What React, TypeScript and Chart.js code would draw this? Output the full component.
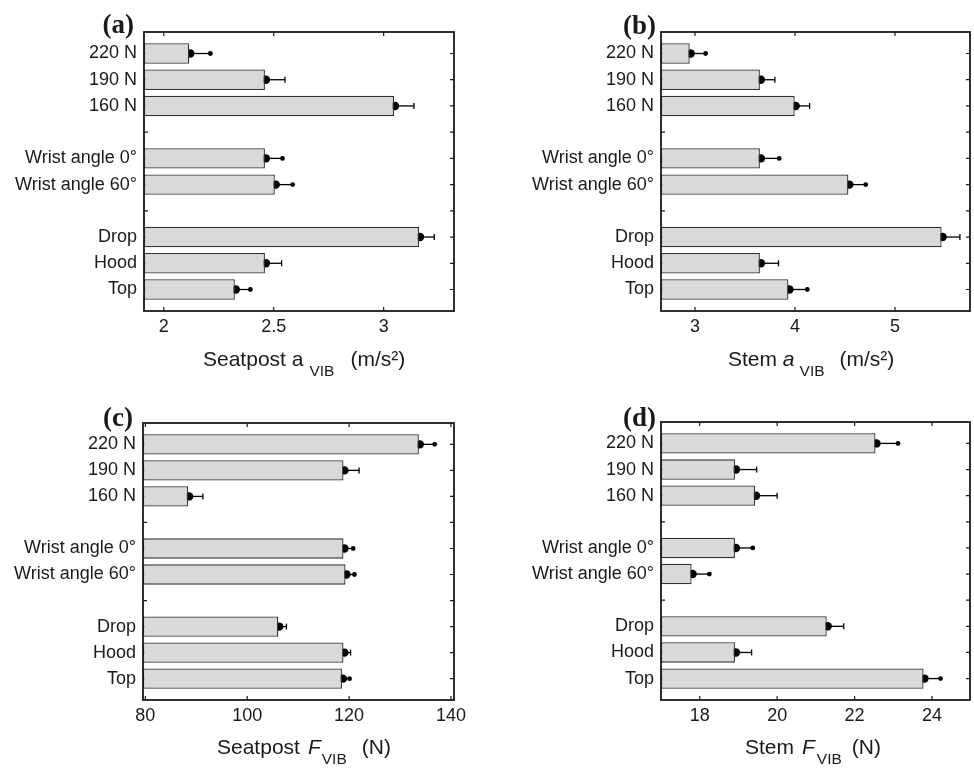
import React, { useEffect, useRef } from "react";
import { Chart, registerables } from "chart.js";

Chart.register(...registerables);

// ---------- data ----------
const categoryLabels = ["220 N", "190 N", "160 N", "", "Wrist angle 0°", "Wrist angle 60°", "", "Drop", "Hood", "Top"];
const errorEndStyle = ["dot", "cap", "cap", "", "dot", "dot", "", "cap", "cap", "dot"];

const seatpostAccel = [2.116, 2.46, 3.047, null, 2.46, 2.505, null, 3.161, 2.46, 2.323];
const seatpostAccelErr = [0.096, 0.091, 0.091, null, 0.08, 0.081, null, 0.069, 0.076, 0.071];
const seatpostAccelTicks = [2, 2.5, 3];

const stemAccel = [2.947, 3.649, 3.997, null, 3.649, 4.534, null, 5.466, 3.649, 3.934];
const stemAccelErr = [0.159, 0.15, 0.149, null, 0.193, 0.173, null, 0.183, 0.186, 0.189];
const stemAccelTicks = [3, 4, 5];

const seatpostForce = [133.7, 118.9, 88.4, null, 118.9, 119.3, null, 106.1, 118.9, 118.6];
const seatpostForceErr = [3.1, 3.07, 2.9, null, 1.9, 1.75, null, 1.6, 1.4, 1.5];
const seatpostForceTicks = [80, 100, 120, 140];

const stemForce = [22.54, 18.91, 19.43, null, 18.91, 17.79, null, 21.28, 18.91, 23.78];
const stemForceErr = [0.58, 0.56, 0.57, null, 0.46, 0.46, null, 0.44, 0.43, 0.44];
const stemForceTicks = [18, 20, 22, 24];

const SANS = "'Liberation Sans', Arial, Helvetica, sans-serif";
const SERIF = "'Liberation Serif', 'Times New Roman', serif";
const INK = "#1a1a1a";

type PanelProps = {
  left: number;
  top: number;
  values: (number | null)[];
  errors: (number | null)[];
  xTicks: number[];
  xMin: number;
  xMax: number;
  yAxisWidth: number;
  padTop: number;
  padRight: number;
  padBottom: number;
  letter: string;
  letterRight: number;
  letterTop: number;
  title: React.ReactNode;
  titleLeft: number;
  titleTop: number;
};

function Panel(p: PanelProps) {
  const ref = useRef<HTMLCanvasElement | null>(null);

  useEffect(() => {
    if (!ref.current) return;
    const data = categoryLabels
      .map((_, i) => (p.values[i] == null ? null : { x: p.values[i] as number, y: i }))
      .filter((d) => d !== null);

    const ticksPlugin = {
      id: "inwardTicks",
      beforeDatasetsDraw(chart: any) {
        const { ctx, chartArea: a, scales } = chart;
        ctx.save();
        ctx.strokeStyle = INK;
        ctx.lineWidth = 1.2;
        const L = 4;
        scales.x.ticks.forEach((t: any) => {
          const px = scales.x.getPixelForValue(t.value);
          ctx.beginPath();
          ctx.moveTo(px, a.bottom);
          ctx.lineTo(px, a.bottom - L);
          ctx.moveTo(px, a.top);
          ctx.lineTo(px, a.top + L);
          ctx.stroke();
        });
        scales.y.ticks.forEach((t: any) => {
          const py = scales.y.getPixelForValue(t.value);
          ctx.beginPath();
          ctx.moveTo(a.left, py);
          ctx.lineTo(a.left + L, py);
          ctx.moveTo(a.right, py);
          ctx.lineTo(a.right - L, py);
          ctx.stroke();
        });
        // error bars (drawn beneath bars so the bar covers half of the mean dot)
        ctx.fillStyle = "#000";
        ctx.strokeStyle = "#000";
        categoryLabels.forEach((_, i) => {
          const v = p.values[i];
          const e = p.errors[i];
          if (v == null || e == null) return;
          const xs = scales.x.getPixelForValue(v);
          const xe = scales.x.getPixelForValue(v + e);
          const y = scales.y.getPixelForValue(i);
          ctx.lineWidth = 1.3;
          ctx.beginPath();
          ctx.moveTo(xs, y);
          ctx.lineTo(xe, y);
          ctx.stroke();
          ctx.beginPath();
          ctx.arc(xs + 1, y, 4.2, 0, Math.PI * 2);
          ctx.fill();
          if (errorEndStyle[i] === "dot") {
            ctx.beginPath();
            ctx.arc(xe, y, 2.4, 0, Math.PI * 2);
            ctx.fill();
          } else {
            ctx.beginPath();
            ctx.moveTo(xe, y - 3);
            ctx.lineTo(xe, y + 3);
            ctx.stroke();
          }
        });
        ctx.restore();
      },
      afterDatasetsDraw(chart: any) {
        const { ctx, chartArea: a } = chart;
        ctx.save();
        ctx.strokeStyle = INK;
        ctx.lineWidth = 1.8;
        ctx.strokeRect(a.left, a.top, a.right - a.left, a.bottom - a.top);
        ctx.restore();
      },
    };

    const chart = new Chart(ref.current, {
      type: "bar",
      data: {
        datasets: [
          {
            data: data as any,
            backgroundColor: "#d9d9d9",
            borderColor: "#333333",
            borderWidth: 1.3,
            borderSkipped: false,
            base: p.xMin,
            barPercentage: 0.78,
            categoryPercentage: 1,
          } as any,
        ],
      },
      options: {
        indexAxis: "y",
        animation: false,
        responsive: false,
        devicePixelRatio: window.devicePixelRatio || 1,
        layout: { padding: { left: 0, top: p.padTop, right: p.padRight, bottom: p.padBottom } },
        plugins: { legend: { display: false }, tooltip: { enabled: false } },
        scales: {
          x: {
            type: "linear",
            position: "bottom",
            min: p.xMin,
            max: p.xMax,
            offset: false,
            grid: { display: false, drawTicks: false },
            border: { display: false },
            afterBuildTicks: (s: any) => {
              s.ticks = p.xTicks.map((v) => ({ value: v }));
            },
            afterFit: (s: any) => {
              s.height = 40;
            },
            ticks: {
              font: { family: SANS, size: 18 },
              color: INK,
              padding: 5,
              autoSkip: false,
              maxRotation: 0,
              callback: (v: any) => String(v),
            },
          },
          y: {
            type: "linear",
            position: "left",
            reverse: true,
            offset: false,
            min: -0.82,
            max: categoryLabels.length - 1 + 0.82,
            grid: { display: false, drawTicks: false, offset: false },
            border: { display: false },
            afterBuildTicks: (s: any) => {
              s.ticks = categoryLabels.map((_, i) => ({ value: i }));
            },
            afterFit: (s: any) => {
              s.width = p.yAxisWidth;
            },
            ticks: {
              font: { family: SANS, size: 18 },
              color: INK,
              padding: 7,
              autoSkip: false,
              callback: (v: any) => categoryLabels[v] ?? "",
            },
          },
        },
      } as any,
      plugins: [ticksPlugin],
    });
    return () => chart.destroy();
  }, []);

  return (
    <div style={{ position: "absolute", left: p.left, top: p.top, width: 487, height: 384 }}>
      <canvas ref={ref} width={487} height={384} style={{ position: "absolute", left: 0, top: 0, width: 487, height: 384 }} />
      <div
        style={{
          position: "absolute",
          left: p.letterRight - 80,
          width: 80,
          top: p.letterTop,
          textAlign: "right",
          fontFamily: SERIF,
          fontWeight: "bold",
          fontSize: 27,
          lineHeight: "30px",
          color: INK,
        }}
      >
        {p.letter}
      </div>
      <div
        style={{
          position: "absolute",
          left: p.titleLeft,
          top: p.titleTop,
          whiteSpace: "nowrap",
          fontFamily: SANS,
          fontSize: 21,
          lineHeight: "24px",
          color: INK,
        }}
      >
        {p.title}
      </div>
    </div>
  );
}

const sub = (text: string, ml: number) => (
  <span style={{ fontSize: 15.5, position: "relative", top: 10, marginLeft: ml }}>{text}</span>
);

export default function App() {
  return (
    <div style={{ position: "absolute", left: 0, top: 0, width: 974, height: 768, background: "#fff" }}>
      <Panel
        left={0}
        top={0}
        values={seatpostAccel}
        errors={seatpostAccelErr}
        xTicks={seatpostAccelTicks}
        xMin={1.91}
        xMax={3.32}
        yAxisWidth={144}
        padTop={32}
        padRight={33}
        padBottom={33}
        letter="(a)"
        letterRight={134}
        letterTop={9}
        title={
          <>
            <span>Seatpost a</span>
            {sub("VIB", 6)}
            <span style={{ marginLeft: 16 }}>(m/s²)</span>
          </>
        }
        titleLeft={203}
        titleTop={347}
      />
      <Panel
        left={487}
        top={0}
        values={stemAccel}
        errors={stemAccelErr}
        xTicks={stemAccelTicks}
        xMin={2.66}
        xMax={5.75}
        yAxisWidth={174}
        padTop={32}
        padRight={4}
        padBottom={33}
        letter="(b)"
        letterRight={169}
        letterTop={10}
        title={
          <>
            <span>Stem </span>
            <span style={{ fontStyle: "italic" }}>a</span>
            {sub("VIB", 5)}
            <span style={{ marginLeft: 15 }}>(m/s²)</span>
          </>
        }
        titleLeft={241}
        titleTop={347}
      />
      <Panel
        left={0}
        top={384}
        values={seatpostForce}
        errors={seatpostForceErr}
        xTicks={seatpostForceTicks}
        xMin={79.54}
        xMax={140.6}
        yAxisWidth={143}
        padTop={39}
        padRight={33}
        padBottom={28}
        letter="(c)"
        letterRight={133}
        letterTop={18}
        title={
          <>
            <span>Seatpost</span>
            <span style={{ fontStyle: "italic", marginLeft: 8 }}>F</span>
            {sub("VIB", 1)}
            <span style={{ marginLeft: 15 }}>(N)</span>
          </>
        }
        titleLeft={217}
        titleTop={351}
      />
      <Panel
        left={487}
        top={384}
        values={stemForce}
        errors={stemForceErr}
        xTicks={stemForceTicks}
        xMin={17}
        xMax={24.98}
        yAxisWidth={174}
        padTop={38}
        padRight={4}
        padBottom={28}
        letter="(d)"
        letterRight={169}
        letterTop={18}
        title={
          <>
            <span>Stem</span>
            <span style={{ fontStyle: "italic", marginLeft: 8 }}>F</span>
            {sub("VIB", 2)}
            <span style={{ marginLeft: 10 }}>(N)</span>
          </>
        }
        titleLeft={258}
        titleTop={351}
      />
    </div>
  );
}
